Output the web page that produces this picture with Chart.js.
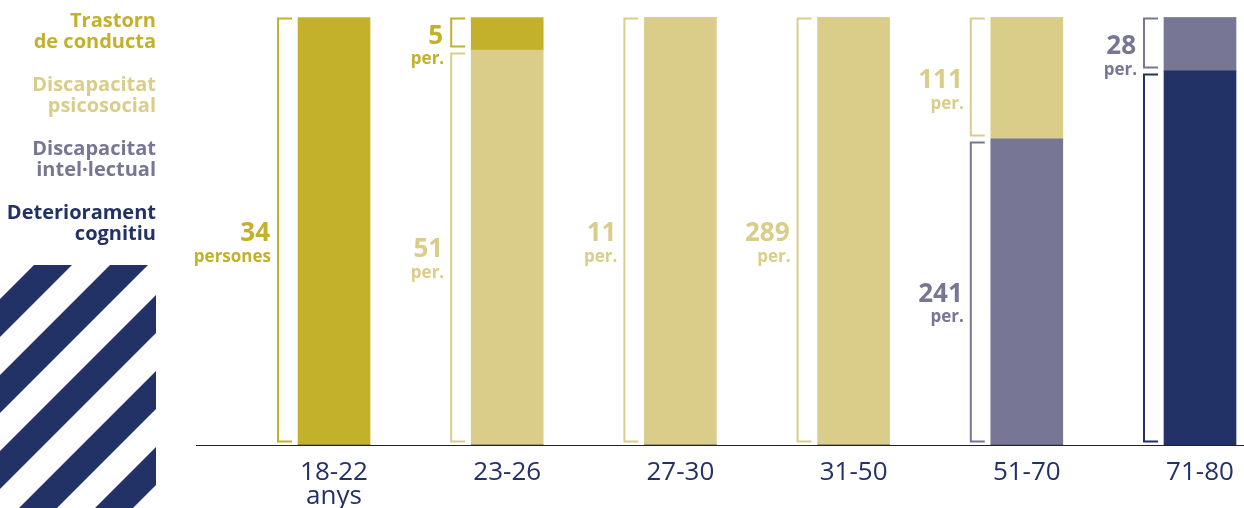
<!DOCTYPE html>
<html><head><meta charset="utf-8">
<script src="https://cdn.jsdelivr.net/npm/chart.js@4.4.1/dist/chart.umd.min.js"></script>
<style>html,body{margin:0;padding:0;background:#fff;overflow:hidden}#wrap{width:1244px;height:508px;position:relative}</style>
</head><body><div id="wrap"><canvas id="c" width="1244" height="508"></canvas></div>
<script>
const categories = [['18-22','anys'], '23-26', '27-30', '31-50', '51-70', '71-80'];
const seriesNames = [['Trastorn','de conducta'], ['Discapacitat','psicosocial'], ['Discapacitat','intel·lectual'], ['Deteriorament','cognitiu']];
const seriesColors = ['#C3B02B', '#DACD89', '#777695', '#223166'];
// share of each age group's bar (%), as drawn
const trastornShare    = [100, 7.6,   0,   0,    0,    0];
const psicosocialShare = [  0, 92.4, 100, 100, 28.4,    0];
const intelShare       = [  0,  0,    0,   0,  71.6, 12.5];
const deteriorShare    = [  0,  0,    0,   0,    0,  87.5];
// persons written beside each segment
const trastornCount    = [34, 5, null, null, null, null];
const psicosocialCount = [null, 51, 11, 289, 111, null];
const intelCount       = [null, null, null, null, 241, 28];
const deteriorCount    = [null, null, null, null, null, null];
const countUnits = ['persones', 'per.', 'per.', 'per.', 'per.', 'per.'];

const FONT = '"Open Sans", "Lato", sans-serif';

const stripesPlugin = {
  id: 'stripes',
  beforeDraw(chart) {
    const ctx = chart.ctx;
    ctx.save();
    ctx.beginPath(); ctx.rect(0, 265, 156, 243); ctx.clip();
    ctx.fillStyle = seriesColors[3];
    for (let c = 223 - 76 * 4; c < 800; c += 76) {
      ctx.beginPath();
      ctx.moveTo(c, 0); ctx.lineTo(c + 38, 0);
      ctx.lineTo(c + 38 - 800, 800); ctx.lineTo(c - 800, 800);
      ctx.closePath(); ctx.fill();
    }
    ctx.restore();
  }
};

const legendPlugin = {
  id: 'textLegend',
  afterDraw(chart) {
    const ctx = chart.ctx;
    ctx.save();
    ctx.textAlign = 'right'; ctx.textBaseline = 'alphabetic';
    ctx.font = '700 20px ' + FONT;
    seriesNames.forEach((lines, i) => {
      ctx.fillStyle = seriesColors[i];
      lines.forEach((t, j) => ctx.fillText(t, 156, 27 + i * 64 + j * 20.5));
    });
    ctx.restore();
  }
};

const axisLinePlugin = {
  id: 'axisLine',
  afterDatasetsDraw(chart) {
    const ctx = chart.ctx, y = chart.chartArea.bottom + 0.5;
    ctx.save();
    ctx.strokeStyle = '#222'; ctx.lineWidth = 1.2;
    ctx.beginPath(); ctx.moveTo(196, y); ctx.lineTo(chart.width, y); ctx.stroke();
    ctx.restore();
  }
};

const bracketPlugin = {
  id: 'brackets',
  afterDatasetsDraw(chart) {
    const ctx = chart.ctx;
    ctx.save();
    chart.data.datasets.forEach((ds, di) => {
      const meta = chart.getDatasetMeta(di);
      meta.data.forEach((el, i) => {
        if (!ds.data[i]) return;
        const left = el.x - el.width / 2;
        const lx = left - 20, tx = left - 6;
        const topMost = el.y <= chart.chartArea.top + 1;
        const top = el.y + (topMost ? 0 : 2.5) + 1;
        const bot = el.base - 2.5 - 1;
        ctx.strokeStyle = ds.backgroundColor; ctx.lineWidth = 2; ctx.lineJoin = 'miter';
        ctx.beginPath();
        ctx.moveTo(tx, top); ctx.lineTo(lx, top); ctx.lineTo(lx, bot); ctx.lineTo(tx, bot);
        ctx.stroke();
        const n = ds.counts[i];
        if (n == null) return;
        const nb = (el.y + el.base) / 2 + 10;
        ctx.fillStyle = ds.backgroundColor; ctx.textAlign = 'right'; ctx.textBaseline = 'alphabetic';
        ctx.font = '700 26px ' + FONT;
        ctx.fillText(String(n), lx - 8, nb);
        ctx.font = '700 17px ' + FONT;
        ctx.fillText(countUnits[i], lx - 7, nb + 20.5);
      });
    });
    ctx.restore();
  }
};

function make() {
  new Chart(document.getElementById('c'), {
    type: 'bar',
    data: {
      labels: categories,
      datasets: [
        { label: seriesNames[3].join(' '), data: deteriorShare, counts: deteriorCount, backgroundColor: seriesColors[3] },
        { label: seriesNames[2].join(' '), data: intelShare, counts: intelCount, backgroundColor: seriesColors[2] },
        { label: seriesNames[1].join(' '), data: psicosocialShare, counts: psicosocialCount, backgroundColor: seriesColors[1] },
        { label: seriesNames[0].join(' '), data: trastornShare, counts: trastornCount, backgroundColor: seriesColors[0] }
      ].map(d => Object.assign(d, { barThickness: 72, borderWidth: 0, clip: false }))
    },
    options: {
      responsive: false, animation: false, devicePixelRatio: 1,
      layout: { padding: { left: 334, right: 44, top: 17.5, bottom: 0 } },
      plugins: { legend: { display: false }, tooltip: { enabled: false } },
      scales: {
        x: {
          stacked: true, offset: false,
          grid: { display: true, drawOnChartArea: false, drawTicks: true, tickLength: 6, color: 'rgba(0,0,0,0)' },
          border: { display: false },
          ticks: { color: seriesColors[3], font: { family: FONT, size: 26, weight: '400', lineHeight: 0.92 }, padding: 10, maxRotation: 0, autoSkip: false },
          afterFit(s) { s.height = 63; }
        },
        y: { stacked: true, min: 0, max: 100, display: false }
      }
    },
    plugins: [stripesPlugin, legendPlugin, axisLinePlugin, bracketPlugin]
  });
}
Promise.all([
  document.fonts.load('700 20px "Open Sans"'),
  document.fonts.load('400 26px "Open Sans"')
]).then(make, make);
</script></body></html>
